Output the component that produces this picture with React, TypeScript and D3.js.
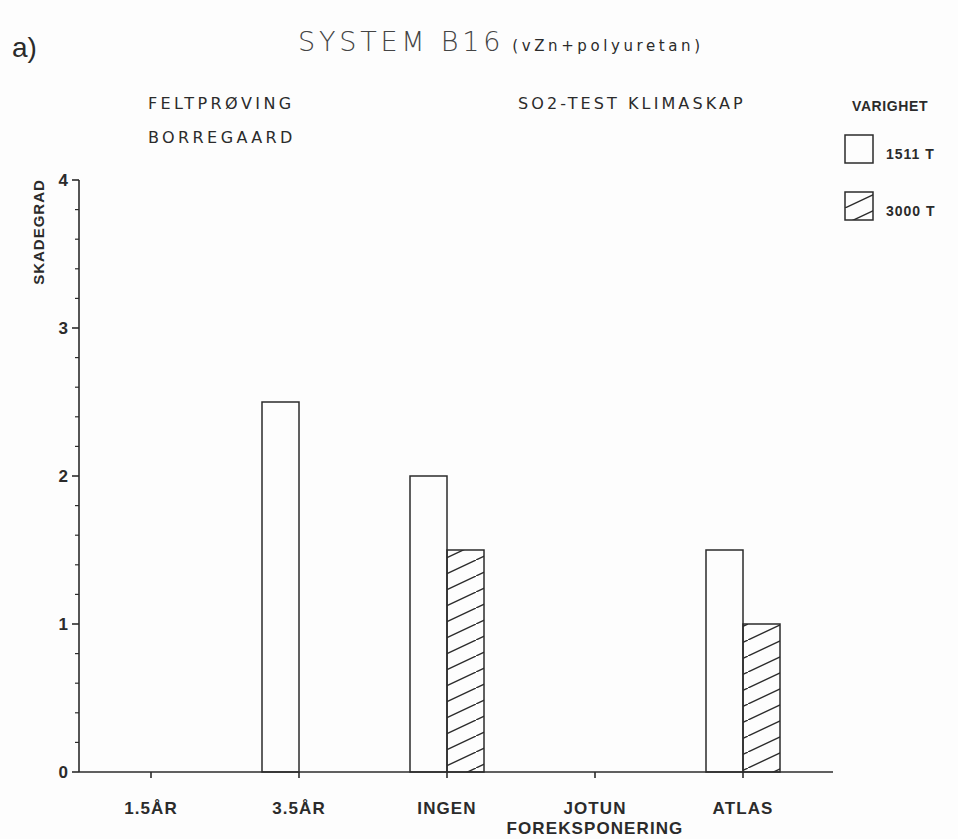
import React from "react";
import * as d3 from "d3";

// Pre-exposure categories along the x axis
const categories = ["1.5ÅR", "3.5ÅR", "INGEN", "JOTUN", "ATLAS"];
// Damage rating (skadegrad) per duration
const values1511 = [0, 2.5, 2.0, 0, 1.5];
const values3000 = [0, 0, 1.5, 0, 1.0];
const yTicks = [0, 1, 2, 3, 4];
const legendItems = ["1511 T", "3000 T"];

const W = 958;
const H = 839;
const INK = "#2b2b2b";

export default function App() {
  const y = d3.scaleLinear().domain([0, 4]).range([772, 180]);
  const x = d3.scaleBand<string>().domain(categories).range([77, 817]).padding(0);
  const barW = 37;
  const minorTicks = d3.range(0, 4.0001, 0.2).filter((v) => Math.abs(v - Math.round(v)) > 1e-6);
  const cx = (c: string) => (x(c) as number) + x.bandwidth() / 2;

  const tickFont = "'Liberation Sans', Arial, sans-serif";
  const plotFont = "'DejaVu Sans', 'Liberation Sans', sans-serif";

  return (
    <svg
      width={W}
      height={H}
      style={{ position: "absolute", left: 0, top: 0, background: "#fdfdfd" }}
    >
      <defs>
        <pattern id="hatch" patternUnits="userSpaceOnUse" width={34} height={16}>
          <line x1={-3.4} y1={17.6} x2={37.4} y2={-1.6} stroke={INK} strokeWidth={1.4} />
        </pattern>
      </defs>

      {/* panel letter and title */}
      <text x={12} y={57} fontFamily={tickFont} fontSize={28} fill={INK}>a)</text>
      <text x={298} y={51} fontFamily={plotFont} fontSize={27} fill="#444" letterSpacing={3.8} fontWeight={300}>
        SYSTEM B16
        <tspan fontSize={15} letterSpacing={3.6} dx={8} fill={INK} fontWeight={400}>(vZn+polyuretan)</tspan>
      </text>

      {/* group headers */}
      <g fontFamily={plotFont} fontSize={16} fill={INK} letterSpacing={3.4}>
        <text x={148} y={109}>FELTPRØVING</text>
        <text x={148} y={143}>BORREGAARD</text>
        <text x={518} y={109} letterSpacing={3.1}>SO2-TEST KLIMASKAP</text>
      </g>

      {/* legend */}
      <g fontFamily={tickFont} fontWeight="bold" fontSize={14} fill={INK}>
        <text x={852} y={111} letterSpacing={0.6}>VARIGHET</text>
        {legendItems.map((lab, i) => (
          <g key={lab} transform={`translate(845, ${135 + i * 57})`}>
            <rect
              x={0}
              y={0}
              width={28}
              height={28}
              fill={i === 0 ? "#fdfdfd" : "url(#hatch)"}
              stroke={INK}
              strokeWidth={1.5}
            />
            <text x={41} y={24} letterSpacing={1}>{lab}</text>
          </g>
        ))}
      </g>

      {/* bars */}
      {categories.map((c, i) => (
        <g key={c}>
          {values1511[i] > 0 && (
            <rect
              x={cx(c) - barW}
              y={y(values1511[i])}
              width={barW}
              height={y(0) - y(values1511[i])}
              fill="#fdfdfd"
              stroke={INK}
              strokeWidth={1.5}
            />
          )}
          {values3000[i] > 0 && (
            <rect
              x={cx(c)}
              y={y(values3000[i])}
              width={barW}
              height={y(0) - y(values3000[i])}
              fill="url(#hatch)"
              stroke={INK}
              strokeWidth={1.5}
            />
          )}
        </g>
      ))}

      {/* y axis */}
      <g stroke={INK} strokeWidth={1.6}>
        <line x1={79} x2={79} y1={y(4)} y2={y(0)} />
        {yTicks.map((t) => (
          <line key={t} x1={72} x2={79} y1={y(t)} y2={y(t)} />
        ))}
        {minorTicks.map((t) => (
          <line key={t} x1={75} x2={79} y1={y(t)} y2={y(t)} strokeWidth={1.2} />
        ))}
      </g>
      <g fontFamily={tickFont} fontWeight="bold" fontSize={17} fill={INK} textAnchor="end">
        {yTicks.map((t) => (
          <text key={t} x={68} y={y(t) + 6}>{t}</text>
        ))}
      </g>
      <text
        transform={`translate(44, 232) rotate(-90)`}
        textAnchor="middle"
        fontFamily={tickFont}
        fontWeight="bold"
        fontSize={15}
        letterSpacing={1}
        fill={INK}
      >
        SKADEGRAD
      </text>

      {/* x axis */}
      <g stroke={INK} strokeWidth={1.6}>
        <line x1={79} x2={833} y1={y(0)} y2={y(0)} />
        {categories.map((c) => (
          <line key={c} x1={cx(c)} x2={cx(c)} y1={y(0)} y2={y(0) + 6} />
        ))}
      </g>
      <g fontFamily={tickFont} fontWeight="bold" fontSize={17} fill={INK} textAnchor="middle" letterSpacing={1.1}>
        {categories.map((c) => (
          <text key={c} x={cx(c)} y={814}>{c}</text>
        ))}
        <text x={cx("JOTUN")} y={834}>FOREKSPONERING</text>
      </g>
    </svg>
  );
}
